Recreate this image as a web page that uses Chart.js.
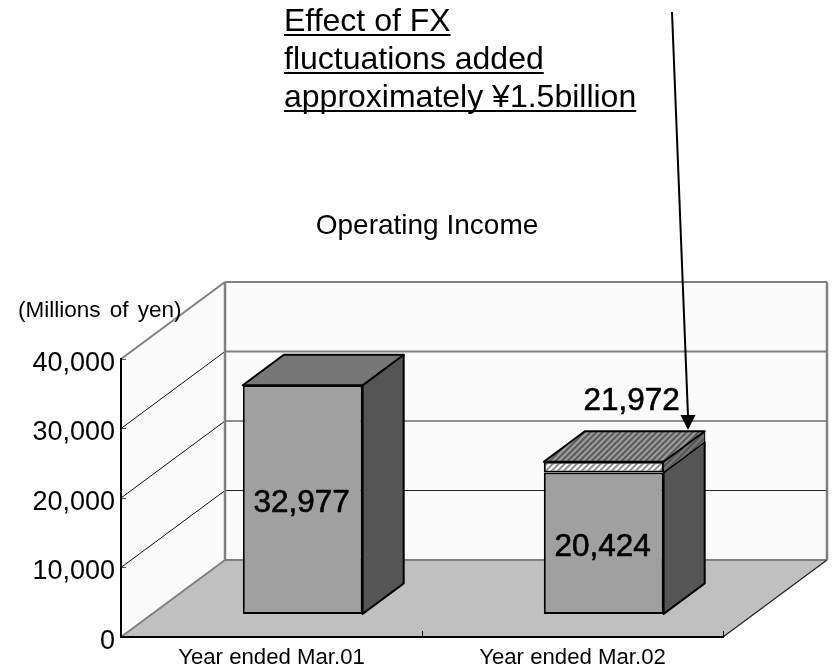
<!DOCTYPE html>
<html><head><meta charset="utf-8">
<style>html,body{margin:0;padding:0;background:#fff}#w{width:832px;height:670px}</style>
<script src="https://cdn.jsdelivr.net/npm/chart.js@4/dist/chart.umd.js"></script>
</head><body><div id="w"><canvas id="c" width="832" height="670"></canvas></div>
<script>
const categories = ["Year ended Mar.01", "Year ended Mar.02"];
const baseValues = [32977, 20424];
const fxValues = [null, 1548];
const yTicks = [0, 10000, 20000, 30000, 40000];
const chartTitle = "Operating Income";
const unitLabel = "(Millions of yen)";
const noteLines = ["Effect of FX", "fluctuations added", "approximately \u00a51.5billion"];

const FONT = '"Liberation Sans", Arial, sans-serif';
const DX = 104, DY = -77;               // full depth of the 3D box
const F0 = 0.30, F1 = 0.695;            // bar position in the depth

function hatch(bg, fg, w) {
  const p = document.createElement('canvas'); p.width = p.height = 6;
  const x = p.getContext('2d');
  x.fillStyle = bg; x.fillRect(0, 0, 6, 6);
  x.strokeStyle = fg; x.lineWidth = w;
  x.beginPath();
  x.moveTo(-3, 3); x.lineTo(3, -3);
  x.moveTo(0, 6); x.lineTo(6, 0);
  x.moveTo(3, 9); x.lineTo(9, 3);
  x.stroke();
  return document.createElement('canvas').getContext('2d').createPattern(p, 'repeat');
}
function poly(ctx, pts, fill, stroke, lw) {
  ctx.beginPath();
  pts.forEach((p, i) => i ? ctx.lineTo(p[0], p[1]) : ctx.moveTo(p[0], p[1]));
  ctx.closePath();
  if (fill) { ctx.fillStyle = fill; ctx.fill(); }
  if (stroke) { ctx.strokeStyle = stroke; ctx.lineWidth = lw; ctx.lineJoin = 'round'; ctx.stroke(); }
}
function line(ctx, x1, y1, x2, y2, col, lw) {
  ctx.beginPath(); ctx.moveTo(x1, y1); ctx.lineTo(x2, y2);
  ctx.strokeStyle = col; ctx.lineWidth = lw; ctx.stroke();
}
function boldText(ctx, t, x, y, size) {
  ctx.font = size + 'px ' + FONT; ctx.fillStyle = '#000';
  ctx.strokeStyle = '#000'; ctx.lineWidth = 0.6; ctx.lineJoin = 'round';
  ctx.fillText(t, x, y); ctx.strokeText(t, x, y);
}

const topHatch = hatch('#a0a0a0', '#4a4a4a', 1.7);
const bandHatch = hatch('#ffffff', '#777777', 1.8);
const sideHatch = hatch('#7a7a7a', '#4a4a4a', 1.6);

const box3d = {
  id: 'box3d',
  beforeDraw(chart) {
    const { ctx, chartArea: a, scales: { y } } = chart;
    const L = a.left, R = a.right, B = y.getPixelForValue(0), T = y.getPixelForValue(40000);
    ctx.save();
    poly(ctx, [[L + DX, T + DY], [R + DX, T + DY], [R + DX, B + DY], [L + DX, B + DY]], '#fbfbfb');
    poly(ctx, [[L, T], [L + DX, T + DY], [L + DX, B + DY], [L, B]], '#fbfbfb');
    poly(ctx, [[L, B], [L + DX, B + DY], [R + DX, B + DY], [R, B]], '#c0c0c0');
    yTicks.forEach(v => {
      const p = y.getPixelForValue(v);
      const soft = v === 0 || v === 40000;
      line(ctx, L, p, L + DX, p + DY, soft ? '#808080' : '#111', soft ? 2 : 1);
      const grey = v >= 30000 || v === 0;
      line(ctx, L + DX, p + DY, R + DX, p + DY, grey ? '#808080' : '#222', grey ? 2 : 1);
    });
    line(ctx, L + DX, T + DY, L + DX, B + DY, '#808080', 2.5);
    line(ctx, R + DX, T + DY, R + DX, B + DY, '#808080', 2.5);
    line(ctx, R, B, R + DX, B + DY, '#222', 1.2);
    ctx.restore();
  },
  beforeDatasetsDraw(chart) {
    const { ctx } = chart;
    const ox = DX * F0, oy = DY * F0 + 0.5, dx = DX * (F1 - F0), dy = DY * (F1 - F0);
    ctx.save();
    ctx.translate(ox, oy);
    categories.forEach((c, i) => {
      const a = chart.getDatasetMeta(0).data[i];
      const hw = a.width / 2, l = a.x - hw, r = a.x + hw;
      poly(ctx, [[r, a.base], [r + dx, a.base + dy], [r + dx, a.y + dy], [r, a.y]], '#555555', '#000', 2);
      let topY = a.y, topFill = '#777777';
      const b = chart.getDatasetMeta(1).data[i];
      if (fxValues[i] != null) {
        poly(ctx, [[r, a.y], [r + dx, a.y + dy], [r + dx, b.y + dy], [r, b.y]], sideHatch, '#000', 1);
        topY = b.y; topFill = topHatch;
      }
      poly(ctx, [[l, topY], [l + dx, topY + dy], [r + dx, topY + dy], [r, topY]], topFill, '#000', 2);
    });
  },
  afterDatasetsDraw(chart) {
    const { ctx } = chart;
    ctx.restore();
    ctx.save();
    const ox = DX * F0, oy = DY * F0;
    ctx.textAlign = 'center'; ctx.textBaseline = 'alphabetic';
    const m0 = chart.getDatasetMeta(0).data, m1 = chart.getDatasetMeta(1).data;
    categories.forEach((c, i) => {
      const cx = m0[i].x + ox;
      const cy = (m0[i].y + m0[i].base) / 2 + oy;
      boldText(ctx, baseValues[i].toLocaleString('en-US'), cx - 1, cy + 13, 31.5);
      if (fxValues[i] != null) {
        const total = baseValues[i] + fxValues[i];
        boldText(ctx, total.toLocaleString('en-US'), cx + 28, m1[i].y + oy - 51, 31.5);
      }
    });
    ctx.fillStyle = '#000';
    ctx.font = '28px ' + FONT;
    ctx.fillText(chartTitle, 427, 234);
    ctx.font = '22.5px ' + FONT; ctx.textAlign = 'left';
    ctx.wordSpacing = '3px';
    ctx.fillText(unitLabel, 18, 317);
    ctx.wordSpacing = '0px';
    ctx.font = '32px ' + FONT;
    [31, 69, 107].forEach((by, i) => {
      ctx.fillText(noteLines[i], 284, by);
      const w = ctx.measureText(noteLines[i]).width;
      ctx.fillRect(284, by + 3, w, 2);
    });
    const tip = [688, 430], tail = [672, 12];
    line(ctx, tail[0], tail[1], 688, 416, '#000', 2);
    poly(ctx, [tip, [680.5, 415], [695.5, 415]], '#000');
    ctx.restore();
  }
};

new Chart(document.getElementById('c'), {
  type: 'bar',
  data: {
    labels: categories,
    datasets: [
      { data: baseValues, backgroundColor: '#a0a0a0', borderColor: '#000', borderWidth: 2, borderSkipped: false },
      { data: fxValues, backgroundColor: bandHatch, borderColor: '#000', borderWidth: 2, borderSkipped: false }
    ]
  },
  plugins: [box3d],
  options: {
    responsive: false,
    animation: false,
    layout: { padding: { top: 359, right: 109, left: 0, bottom: 0 } },
    plugins: { legend: { display: false }, tooltip: { enabled: false }, title: { display: false } },
    datasets: { bar: { categoryPercentage: 0.398, barPercentage: 1 } },
    scales: {
      x: {
        stacked: true,
        afterFit(s) { s.height = 33; },
        border: { color: '#000', width: 2 },
        grid: { drawOnChartArea: false, color: '#000', tickLength: -6, tickWidth: 1 },
        ticks: { color: '#000', padding: 14, maxRotation: 0, autoSkip: false, font: { family: FONT, size: 22.2 } }
      },
      y: {
        stacked: true, min: 0, max: 40000,
        afterFit(s) { s.width = 121; },
        afterBuildTicks(s) { s.ticks = yTicks.map(v => ({ value: v })); },
        border: { color: '#000', width: 2 },
        grid: { drawOnChartArea: false, color: '#555', tickLength: -5, tickWidth: 1 },
        // the blank first line lowers each label a few pixels below its tick, as in the reference
        ticks: { color: '#000', padding: 11, callback: v => ['', v.toLocaleString('en-US')], font: { family: FONT, size: 27, lineHeight: 0.3 } }
      }
    }
  }
});
</script></body></html>
